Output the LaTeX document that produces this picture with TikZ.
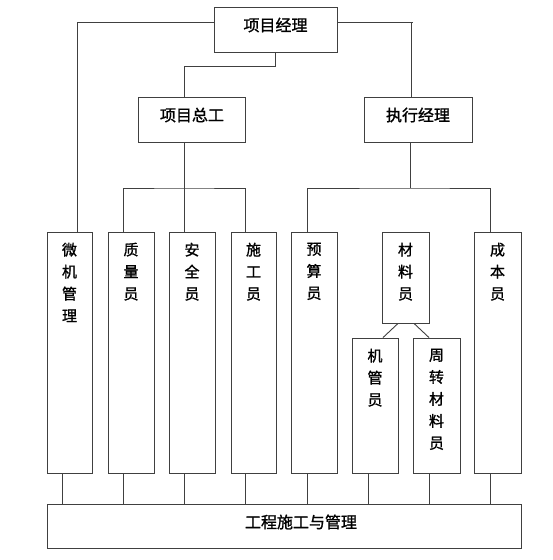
\documentclass[tikz,border=0pt]{standalone}
\usepackage{fontspec}
\newfontfamily\cjk[FakeBold=1.2]{Noto Sans CJK SC}
\usetikzlibrary{calc}
\tikzset{
  ln/.style={draw=black!75, line width=0.9pt},
  bx/.style={ln, rectangle, inner sep=0pt, fill=white},
  htxt/.style={inner sep=0pt, font=\cjk\fontsize{16}{18}\selectfont},
  vtxt/.style={inner sep=0pt, anchor=north, align=center, font=\cjk\fontsize{15}{22}\selectfont},
}
\begin{document}
\begin{tikzpicture}[x=1pt,y=-1pt]
\useasboundingbox (0,0) rectangle (553,560);
% boxes
\node[bx, minimum width=123pt, minimum height=45pt] (pm) at (275.5,29.5) {};
\node[bx, minimum width=107pt, minimum height=45pt] (zg) at (191.5,119.5) {};
\node[bx, minimum width=108pt, minimum height=45pt] (zx) at (418,119.5) {};
\node[bx, minimum width=45pt, minimum height=241pt] (wj) at (69.5,352.5) {};
\node[bx, minimum width=46pt, minimum height=241pt] (zl) at (131,352.5) {};
\node[bx, minimum width=46pt, minimum height=241pt] (aq) at (192,352.5) {};
\node[bx, minimum width=45pt, minimum height=241pt] (sg) at (253.5,352.5) {};
\node[bx, minimum width=46pt, minimum height=241pt] (ys) at (314,352.5) {};
\node[bx, minimum width=47pt, minimum height=91pt] (cl) at (405.5,277.5) {};
\node[bx, minimum width=46pt, minimum height=135pt] (jg) at (375,405.5) {};
\node[bx, minimum width=47pt, minimum height=135pt] (zz) at (436.5,405.5) {};
\node[bx, minimum width=47pt, minimum height=241pt] (cb) at (497.5,352.5) {};
\node[bx, minimum width=474pt, minimum height=44pt] (bot) at (284,526) {};
% texts
\node[htxt] (pmt) at ($(pm.center)+(0,-4.5)$) {项目经理};
\node[htxt] (zgt) at ($(zg.center)+(0.5,-4.5)$) {项目总工};
\node[htxt] (zxt) at ($(zx.center)+(0,-4.5)$) {执行经理};
\node[htxt] (bott) at (301,522) {工程施工与管理};
\node[vtxt] (wjt) at ($(wj.north)+(0,11)$) {微\\机\\管\\理};
\node[vtxt] (zlt) at ($(zl.north)+(0,11)$) {质\\量\\员};
\node[vtxt] (aqt) at ($(aq.north)+(0,11)$) {安\\全\\员};
\node[vtxt] (sgt) at ($(sg.north)+(0,11)$) {施\\工\\员};
\node[vtxt] (yst) at ($(ys.north)+(0,11)$) {预\\算\\员};
\node[vtxt] (clt) at ($(cl.north)+(0,11)$) {材\\料\\员};
\node[vtxt] (cbt) at ($(cb.north)+(0,11)$) {成\\本\\员};
\node[vtxt] (jgt) at ($(jg.north)+(0,11)$) {机\\管\\员};
\node[vtxt] (zzt) at ($(zz.north)+(0,11)$) {周\\转\\材\\料\\员};
% connectors
\coordinate (rt) at (413,22);
\draw[ln] (pm.west |- 0,22) -| (wj.north -| 77,0);
\draw[ln] (pm.east |- 0,22) -- (rt);
\draw[ln] (411,22) -- (zx.north -| 411,0);
\draw[ln] (pm.south) -- (275.5,66) -| (zg.north -| 184,0);
\draw[ln] (zg.south -| 184,0) -- (aq.north -| 184,0);
\draw[ln] (zl.north -| 123,0) |- (184,188) -| (sg.north -| 245,0);
\draw[ln] (zx.south -| 410,0) -- (410,188);
\draw[ln] (ys.north -| 307,0) |- (410,188) -| (cb.north -| 490,0);
\draw[ln] (cl.south -| 398,0) -- (jg.north -| 383,0);
\draw[ln] (cl.south -| 414,0) -- (zz.north -| 429,0);
\foreach \n/\x in {wj/62,zl/123,aq/184,sg/245,ys/307,jg/368,zz/429,cb/490}
  \draw[ln] (\n.south -| \x,0) -- (bot.north -| \x,0);
\end{tikzpicture}
\end{document}
